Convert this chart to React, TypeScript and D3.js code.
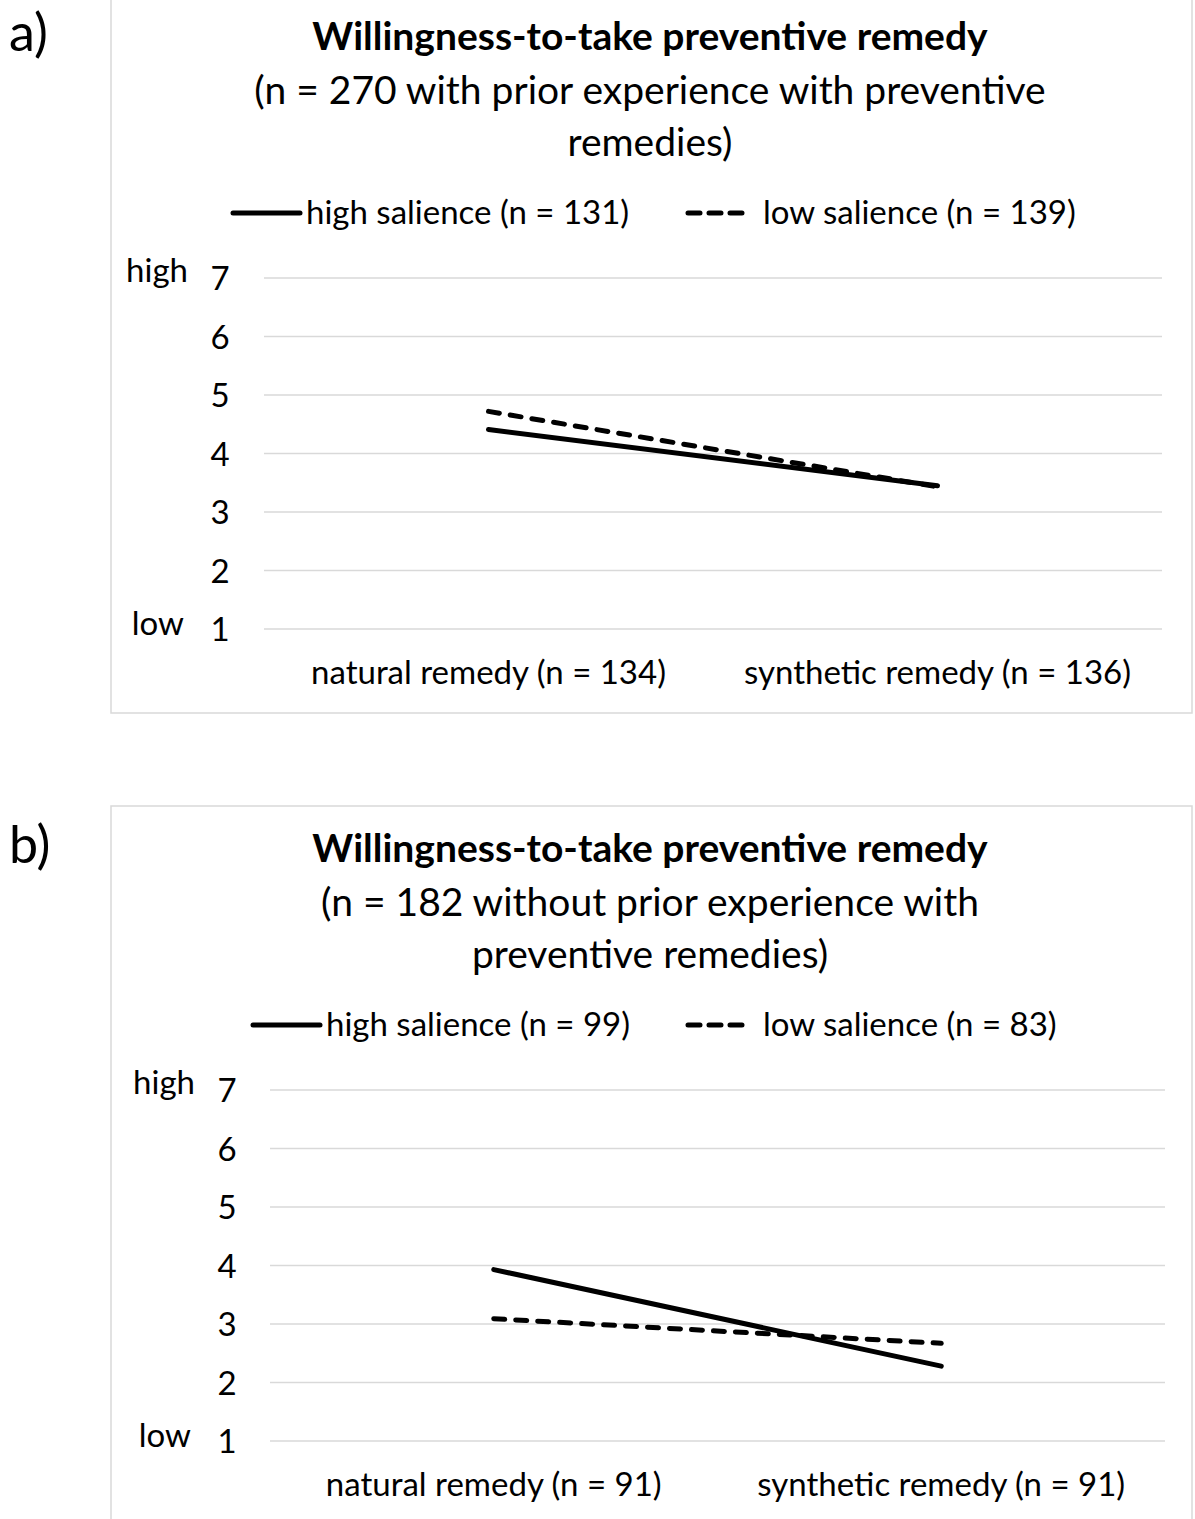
import React from 'react';
import * as d3 from 'd3';

const yTicks = [1, 2, 3, 4, 5, 6, 7];
const seriesNames = ['high salience', 'low salience'];

const categoriesA = ['natural remedy (n = 134)', 'synthetic remedy (n = 136)'];
const highA = [4.41, 3.45];
const lowA = [4.72, 3.43];
const legendNA = [131, 139];

const categoriesB = ['natural remedy (n = 91)', 'synthetic remedy (n = 91)'];
const highB = [3.93, 2.28];
const lowB = [3.09, 2.67];
const legendNB = [99, 83];

const FONT = 'Lato, "Open Sans", sans-serif';
const TITLE_SIZE = 39;
const LABEL_SIZE = 33;

type PanelProps = {
  top: number;
  label: string;
  subtitle: string[];
  categories: string[];
  high: number[];
  low: number[];
  legendN: number[];
  plotLeft: number;
  plotRight: number;
  solidLegendX: number;
  dashLegendX: number;
  yLabelX: number;
};

const Panel = (p: PanelProps) => {
  // plot area, relative to panel top
  const y7 = 278;
  const y1 = 629;
  const y = d3.scaleLinear().domain([1, 7]).range([y1, y7]);
  const x = d3.scalePoint<string>().domain(p.categories).range([p.plotLeft, p.plotRight]).padding(0.5);

  const line = d3
    .line<number>()
    .x((_, i) => x(p.categories[i]) as number)
    .y(d => y(d));

  const dash = '11,11';

  return (
    <g transform={`translate(0, ${p.top})`}>
      <rect x={111} y={-6} width={1081} height={719} fill="#fff" stroke="#d9d9d9" strokeWidth={1.5} />
      <text x={9} y={51} fontSize={52} fontFamily={FONT}>{p.label}</text>

      <text x={650} y={50} textAnchor="middle" fontSize={TITLE_SIZE} fontWeight="bold" fontFamily={FONT}>
        Willingness-to-take preventive remedy
      </text>
      {p.subtitle.map((s, i) => (
        <text key={i} x={650} y={104 + i * 52} textAnchor="middle" fontSize={TITLE_SIZE} fontFamily={FONT}>
          {s}
        </text>
      ))}

      {/* legend */}
      <line x1={p.solidLegendX} x2={p.solidLegendX + 67} y1={213} y2={213} stroke="#000" strokeWidth={5} strokeLinecap="round" />
      <text x={p.solidLegendX + 73} y={224} fontSize={LABEL_SIZE} fontFamily={FONT}>
        {`${seriesNames[0]} (n = ${p.legendN[0]})`}
      </text>
      <line x1={p.dashLegendX} x2={p.dashLegendX + 62} y1={213} y2={213} stroke="#000" strokeWidth={5} strokeDasharray="12,9" strokeLinecap="round" />
      <text x={p.dashLegendX + 75} y={224} fontSize={LABEL_SIZE} fontFamily={FONT}>
        {`${seriesNames[1]} (n = ${p.legendN[1]})`}
      </text>

      {/* grid */}
      {yTicks.map(t => (
        <g key={t}>
          <line x1={p.plotLeft} x2={p.plotRight} y1={y(t)} y2={y(t)} stroke="#d9d9d9" strokeWidth={1.5} />
          <text x={p.yLabelX} y={y(t) + 12} textAnchor="middle" fontSize={LABEL_SIZE} fontFamily={FONT}>{t}</text>
        </g>
      ))}
      <text x={p.yLabelX - 32} y={y(7) + 4} textAnchor="end" fontSize={LABEL_SIZE} fontFamily={FONT}>high</text>
      <text x={p.yLabelX - 36} y={y(1) + 6} textAnchor="end" fontSize={LABEL_SIZE} fontFamily={FONT}>low</text>

      {/* x labels */}
      {p.categories.map(c => (
        <text key={c} x={x(c)} y={684} textAnchor="middle" fontSize={LABEL_SIZE} fontFamily={FONT}>{c}</text>
      ))}

      {/* series */}
      <path d={line(p.high) || ''} fill="none" stroke="#000" strokeWidth={5} strokeLinecap="round" />
      <path d={line(p.low) || ''} fill="none" stroke="#000" strokeWidth={5} strokeDasharray={dash} strokeLinecap="round" />
    </g>
  );
};

export default function App() {
  return (
    <svg width={1195} height={1519} style={{ position: 'absolute', left: 0, top: 0, background: '#fff' }}>
      <rect width={1195} height={1519} fill="#fff" />
      <Panel
        top={0}
        label="a)"
        subtitle={['(n = 270 with prior experience with preventive', 'remedies)']}
        categories={categoriesA}
        high={highA}
        low={lowA}
        legendN={legendNA}
        plotLeft={264}
        plotRight={1162}
        solidLegendX={233}
        dashLegendX={688}
        yLabelX={220}
      />
      <Panel
        top={812}
        label="b)"
        subtitle={['(n = 182 without prior experience with', 'preventive remedies)']}
        categories={categoriesB}
        high={highB}
        low={lowB}
        legendN={legendNB}
        plotLeft={270}
        plotRight={1165}
        solidLegendX={253}
        dashLegendX={688}
        yLabelX={227}
      />
    </svg>
  );
}
